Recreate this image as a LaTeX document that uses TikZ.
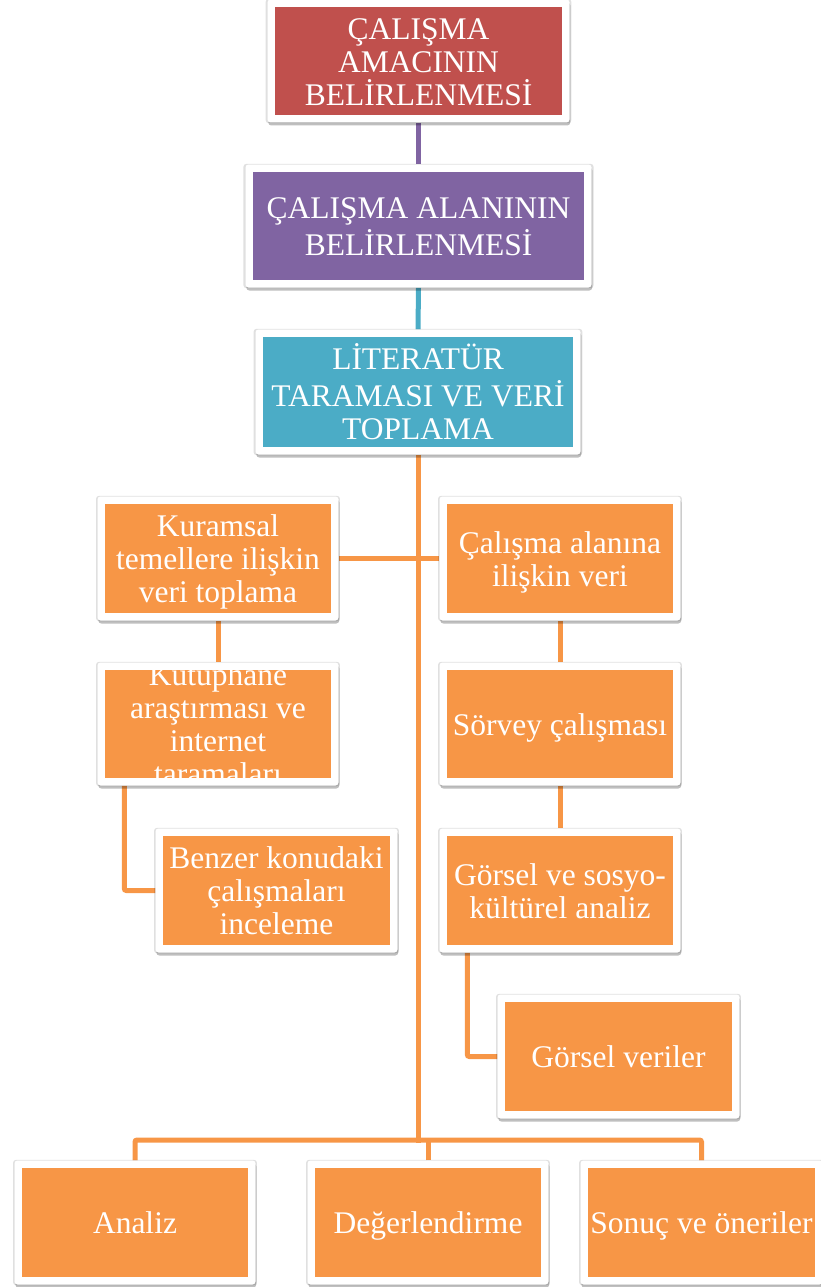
\documentclass[tikz,border=0pt]{standalone}
\usepackage{fontspec}
\setmainfont{Liberation Serif}
\usetikzlibrary{shadows,backgrounds}
\definecolor{cred}{HTML}{C0504D}
\definecolor{cpurple}{HTML}{8064A2}
\definecolor{cteal}{HTML}{4BACC6}
\definecolor{corange}{HTML}{F79646}
\tikzset{
 frame/.style={fill=white, rounded corners=3pt, inner sep=0pt,
   drop shadow={shadow xshift=0pt, shadow yshift=0pt, shadow scale=1.012, opacity=0.12, fill=black},
   drop shadow={shadow xshift=0.8pt, shadow yshift=-3pt, opacity=0.25, fill=black}},
 txt/.style={text=white, align=center, inner sep=0pt, yshift=-4.5pt, font=\fontsize{31.5}{33}\selectfont},
 conn/.style={line width=5pt, rounded corners=2pt}
}
\newcommand\obox[7]{%
 \node[frame, minimum width={#4-#2+15}, minimum height={#5-#3+15}] (#1) at ({(#2+#4)/2},{(#3+#5)/2}) {};
 \fill[#6] (#2,#3) rectangle (#4,#5);
 \node[txt] (#1-t) at (#1.center) {\strut #7\strut};
}
\begin{document}
\begin{tikzpicture}[x=1pt,y=-1pt]
\useasboundingbox (0,0) rectangle (821,1287);
\obox{amac}{275}{7}{562}{115}{cred}{ÇALIŞMA\\AMACININ\\BELİRLENMESİ}
\obox{alan}{253}{172}{584}{280}{cpurple}{ÇALIŞMA ALANININ\\BELİRLENMESİ}
\obox{lit}{263}{337}{573}{447}{cteal}{LİTERATÜR\\TARAMASI VE VERİ\\TOPLAMA}
\obox{kur}{105}{504}{331}{613}{corange}{Kuramsal\\temellere ilişkin\\veri toplama}
% Kutuphane box (text clipped by its fill)
\node[frame, minimum width={331-105+15}, minimum height={778-670+15}] (kut) at (218,724) {};
\fill[corange] (105,670) rectangle (331,778);
\begin{scope}
 \clip (105,670) rectangle (331,778);
 \node[txt] (kut-t) at (kut.center) {\strut Kütüphane\\araştırması ve\\internet\\taramaları\strut};
\end{scope}
\obox{benz}{163}{836}{390}{945}{corange}{Benzer konudaki\\çalışmaları\\inceleme}
\obox{cal}{447}{504}{673}{613}{corange}{Çalışma alanına\\ilişkin veri}
\obox{sor}{447}{670}{673}{778}{corange}{Sörvey çalışması}
\obox{gor}{447}{836}{673}{945}{corange}{Görsel ve sosyo-\\kültürel analiz}
\obox{gv}{505}{1002}{732}{1111}{corange}{Görsel veriler}
\obox{an}{22}{1168}{248}{1277}{corange}{Analiz}
\obox{deg}{315}{1168}{541}{1277}{corange}{Değerlendirme}
\obox{son}{588}{1168}{815}{1277}{corange}{Sonuç ve öneriler}
\coordinate (jb) at (418,1140);
\begin{scope}[on background layer]
 \draw[conn, cpurple] (amac.south) -- (alan.north);
 \draw[conn, cteal] (alan.south) -- (lit.north);
 \draw[conn, corange] (lit.south) -- ([yshift=-3pt]jb);
 \draw[conn, corange] (kur.east) -- (cal.west);
 \draw[conn, corange] (kur.south) -- (kut.north);
 \draw[conn, corange] ([xshift=27pt]kut.south west) |- (benz.west);
 \draw[conn, corange] (cal.south) -- (sor.north);
 \draw[conn, corange] (sor.south) -- (gor.north);
 \draw[conn, corange] ([xshift=28pt]gor.south west) |- (gv.west);
 \draw[conn, corange] (an.north) |- (jb) -| (son.north);
 \draw[conn, corange] (deg.north) -- (deg.north |- jb);
\end{scope}
\end{tikzpicture}
\end{document}
